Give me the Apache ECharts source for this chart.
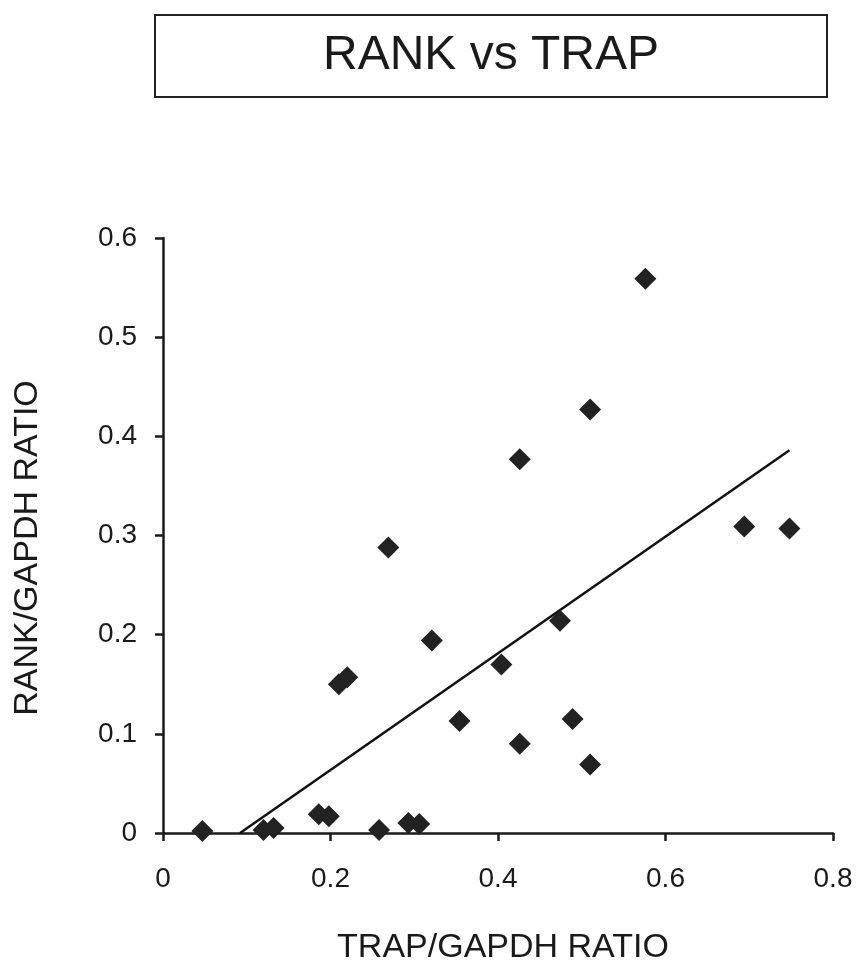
<!DOCTYPE html>
<html>
<head>
<meta charset="utf-8">
<script src="https://cdn.jsdelivr.net/npm/echarts@6/dist/echarts.min.js"></script>
<style>
html,body{margin:0;padding:0;background:#fff;}
#chart{width:861px;height:964px;}
</style>
</head>
<body>
<div id="chart"></div>
<script>
// TRAP/GAPDH ratio (x) and RANK/GAPDH ratio (y)
var trapRatio = [0.047, 0.120, 0.132, 0.186, 0.198, 0.258, 0.293, 0.306,
                 0.210, 0.220, 0.269, 0.321, 0.354, 0.404, 0.426, 0.426,
                 0.474, 0.489, 0.510, 0.510, 0.576, 0.694, 0.748];
var rankRatio = [0.002, 0.003, 0.005, 0.019, 0.017, 0.003, 0.010, 0.009,
                 0.150, 0.157, 0.288, 0.194, 0.113, 0.170, 0.377, 0.090,
                 0.214, 0.115, 0.427, 0.069, 0.559, 0.309, 0.307];
// linear trend line end points
var trendX = [0.092, 0.748];
var trendY = [0.0, 0.386];
var xTicks = [0, 0.2, 0.4, 0.6, 0.8];
var yTicks = [0, 0.1, 0.2, 0.3, 0.4, 0.5, 0.6];

var points = trapRatio.map(function(x, i){ return [x, rankRatio[i]]; });
var trend = trendX.map(function(x, i){ return [x, trendY[i]]; });

var FONT = '"Liberation Sans", Arial, sans-serif';
var INK = '#1a1a1a';

var chart = echarts.init(document.getElementById('chart'), null, {renderer:'canvas'});
chart.setOption({
  backgroundColor: '#ffffff',
  animation: false,
  graphic: [
    {type:'rect', shape:{x:155, y:15, width:672, height:82},
     style:{fill:'#fff', stroke:'#222', lineWidth:2}, z:0},
    {type:'text', x:491, y:56,
     style:{text:'RANK vs TRAP', font:'48px ' + FONT, fill:INK,
            textAlign:'center', textVerticalAlign:'middle'}, z:1},
    {type:'text', x:503, y:948,
     style:{text:'TRAP/GAPDH RATIO', font:'34px ' + FONT, fill:INK,
            textAlign:'center', textVerticalAlign:'middle'}, z:1},
    {type:'text', x:28, y:548, rotation:Math.PI/2,
     style:{text:'RANK/GAPDH RATIO', font:'34px ' + FONT, fill:INK,
            textAlign:'center', textVerticalAlign:'middle'}, z:1}
  ],
  grid: {left:163, right:28, top:238, bottom:131, containLabel:false, outerBoundsMode:'none'},
  xAxis: {
    type:'value', min:0, max:0.8, interval:0.2,
    axisLine:{show:true, onZero:false, lineStyle:{color:'#1a1a1a', width:2.5}},
    axisTick:{show:true, length:8, lineStyle:{color:'#1a1a1a', width:2.5}},
    axisLabel:{fontFamily:FONT, fontSize:28, color:INK, margin:32,
               formatter:function(v){ var r = Math.round(v*10)/10; return xTicks.indexOf(r) >= 0 ? String(r) : ''; }},
    splitLine:{show:false}
  },
  yAxis: {
    type:'value', min:0, max:0.6, interval:0.1,
    axisLine:{show:true, onZero:false, lineStyle:{color:'#1a1a1a', width:2.5}},
    axisTick:{show:true, length:8, lineStyle:{color:'#1a1a1a', width:2.5}},
    axisLabel:{fontFamily:FONT, fontSize:28, color:INK, margin:26,
               formatter:function(v){ var r = Math.round(v*10)/10; return yTicks.indexOf(r) >= 0 ? String(r) : ''; }},
    splitLine:{show:false}
  },
  series: [
    {type:'line', data:trend, symbol:'none', silent:true,
     lineStyle:{color:'#111', width:2.5}, z:2},
    {type:'scatter', data:points, symbol:'diamond', symbolSize:22,
     itemStyle:{color:'#222', opacity:1}, z:3}
  ]
});
</script>
</body>
</html>
